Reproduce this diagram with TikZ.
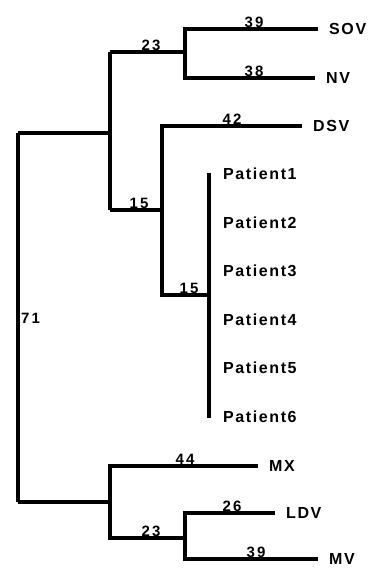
\documentclass[tikz,border=0pt]{standalone}
\usepackage{fontspec}
\setmainfont{Liberation Sans}
\newfontfamily\leaffont[LetterSpace=10]{Liberation Sans Bold}
\newfontfamily\numfont[LetterSpace=14]{Liberation Sans Bold}
\begin{document}
\begin{tikzpicture}[x=1pt,y=-1pt,
  branch/.style={line width=3.6pt, line cap=butt, line join=miter},
  leaf/.style={anchor=west, inner xsep=11pt, inner ysep=0pt, font=\leaffont\fontsize{16}{18}\selectfont},
  pleaf/.style={anchor=west, inner sep=0pt, font=\leaffont\fontsize{16}{18}\selectfont},
  blen/.style={anchor=south, inner sep=0pt, yshift=1.6pt, font=\numfont\fontsize{15}{17}\selectfont}]
\useasboundingbox (0,0) rectangle (369,568);
% internal coordinates
\coordinate (rT) at (18,133);
\coordinate (rB) at (18,502);
\coordinate (uT) at (110,52);
\coordinate (uM) at (110,133);
\coordinate (uB) at (110,210);
\coordinate (sT) at (185,29);
\coordinate (sM) at (185,52);
\coordinate (sB) at (185,78);
\coordinate (dT) at (162,126);
\coordinate (dM) at (162,210);
\coordinate (dB) at (162,295);
\coordinate (pT) at (209,173);
\coordinate (pM) at (209,295);
\coordinate (pB) at (209,418);
\coordinate (lT) at (110,466);
\coordinate (lM) at (110,502);
\coordinate (lB) at (110,538);
\coordinate (mT) at (185,513);
\coordinate (mM) at (185,538);
\coordinate (mB) at (185,559);
% leaves
\node[leaf] (SOV) at (318,29) {SOV};
\node[leaf] (NV) at (315,78) {NV};
\node[leaf] (DSV) at (302,126) {DSV};
\node[leaf] (MX) at (258,466) {MX};
\node[leaf] (LDV) at (275,513) {LDV};
\node[leaf] (MV) at (318,559) {MV};
\foreach \i in {1,...,6}{
  \node[pleaf] (P\i) at (223,{174+48.5*(\i-1)}) {Patient\i};
}
% branches
\draw[branch] (rT) -- (rB);
\draw[branch] (rT) -- (uM);
\draw[branch] (rB) -- (lM);
\draw[branch] (uT) -- (uB);
\draw[branch] (uT) -- (sM);
\draw[branch] (SOV.west) -- (sT) -- (sB) -- (NV.west);
\draw[branch] (uB) -- (dM);
\draw[branch] (DSV.west) -- (dT) -- (dB) -- (pM);
\draw[branch] (pT) -- (pB);
\draw[branch] (MX.west) -- (lT) -- (lB) -- (mM);
\draw[branch] (LDV.west) -- (mT) -- (mB) -- (MV.west);
% branch lengths
\node[blen] (b39a) at (254,29) {39};
\node[blen] (b38) at (254,78) {38};
\node[blen] (b23a) at (151,52) {23};
\node[blen] (b42) at (232,126) {42};
\node[blen] (b15a) at (139,210) {15};
\node[blen] (b15b) at (189,295) {15};
\node[anchor=west, inner sep=0pt, font=\numfont\fontsize{15}{17}\selectfont] (b71) at (21,318) {71};
\node[blen] (b44) at (185,466) {44};
\node[blen] (b23b) at (151,538) {23};
\node[blen] (b26) at (232,513) {26};
\node[blen] (b39b) at (256,559) {39};
\end{tikzpicture}
\end{document}
